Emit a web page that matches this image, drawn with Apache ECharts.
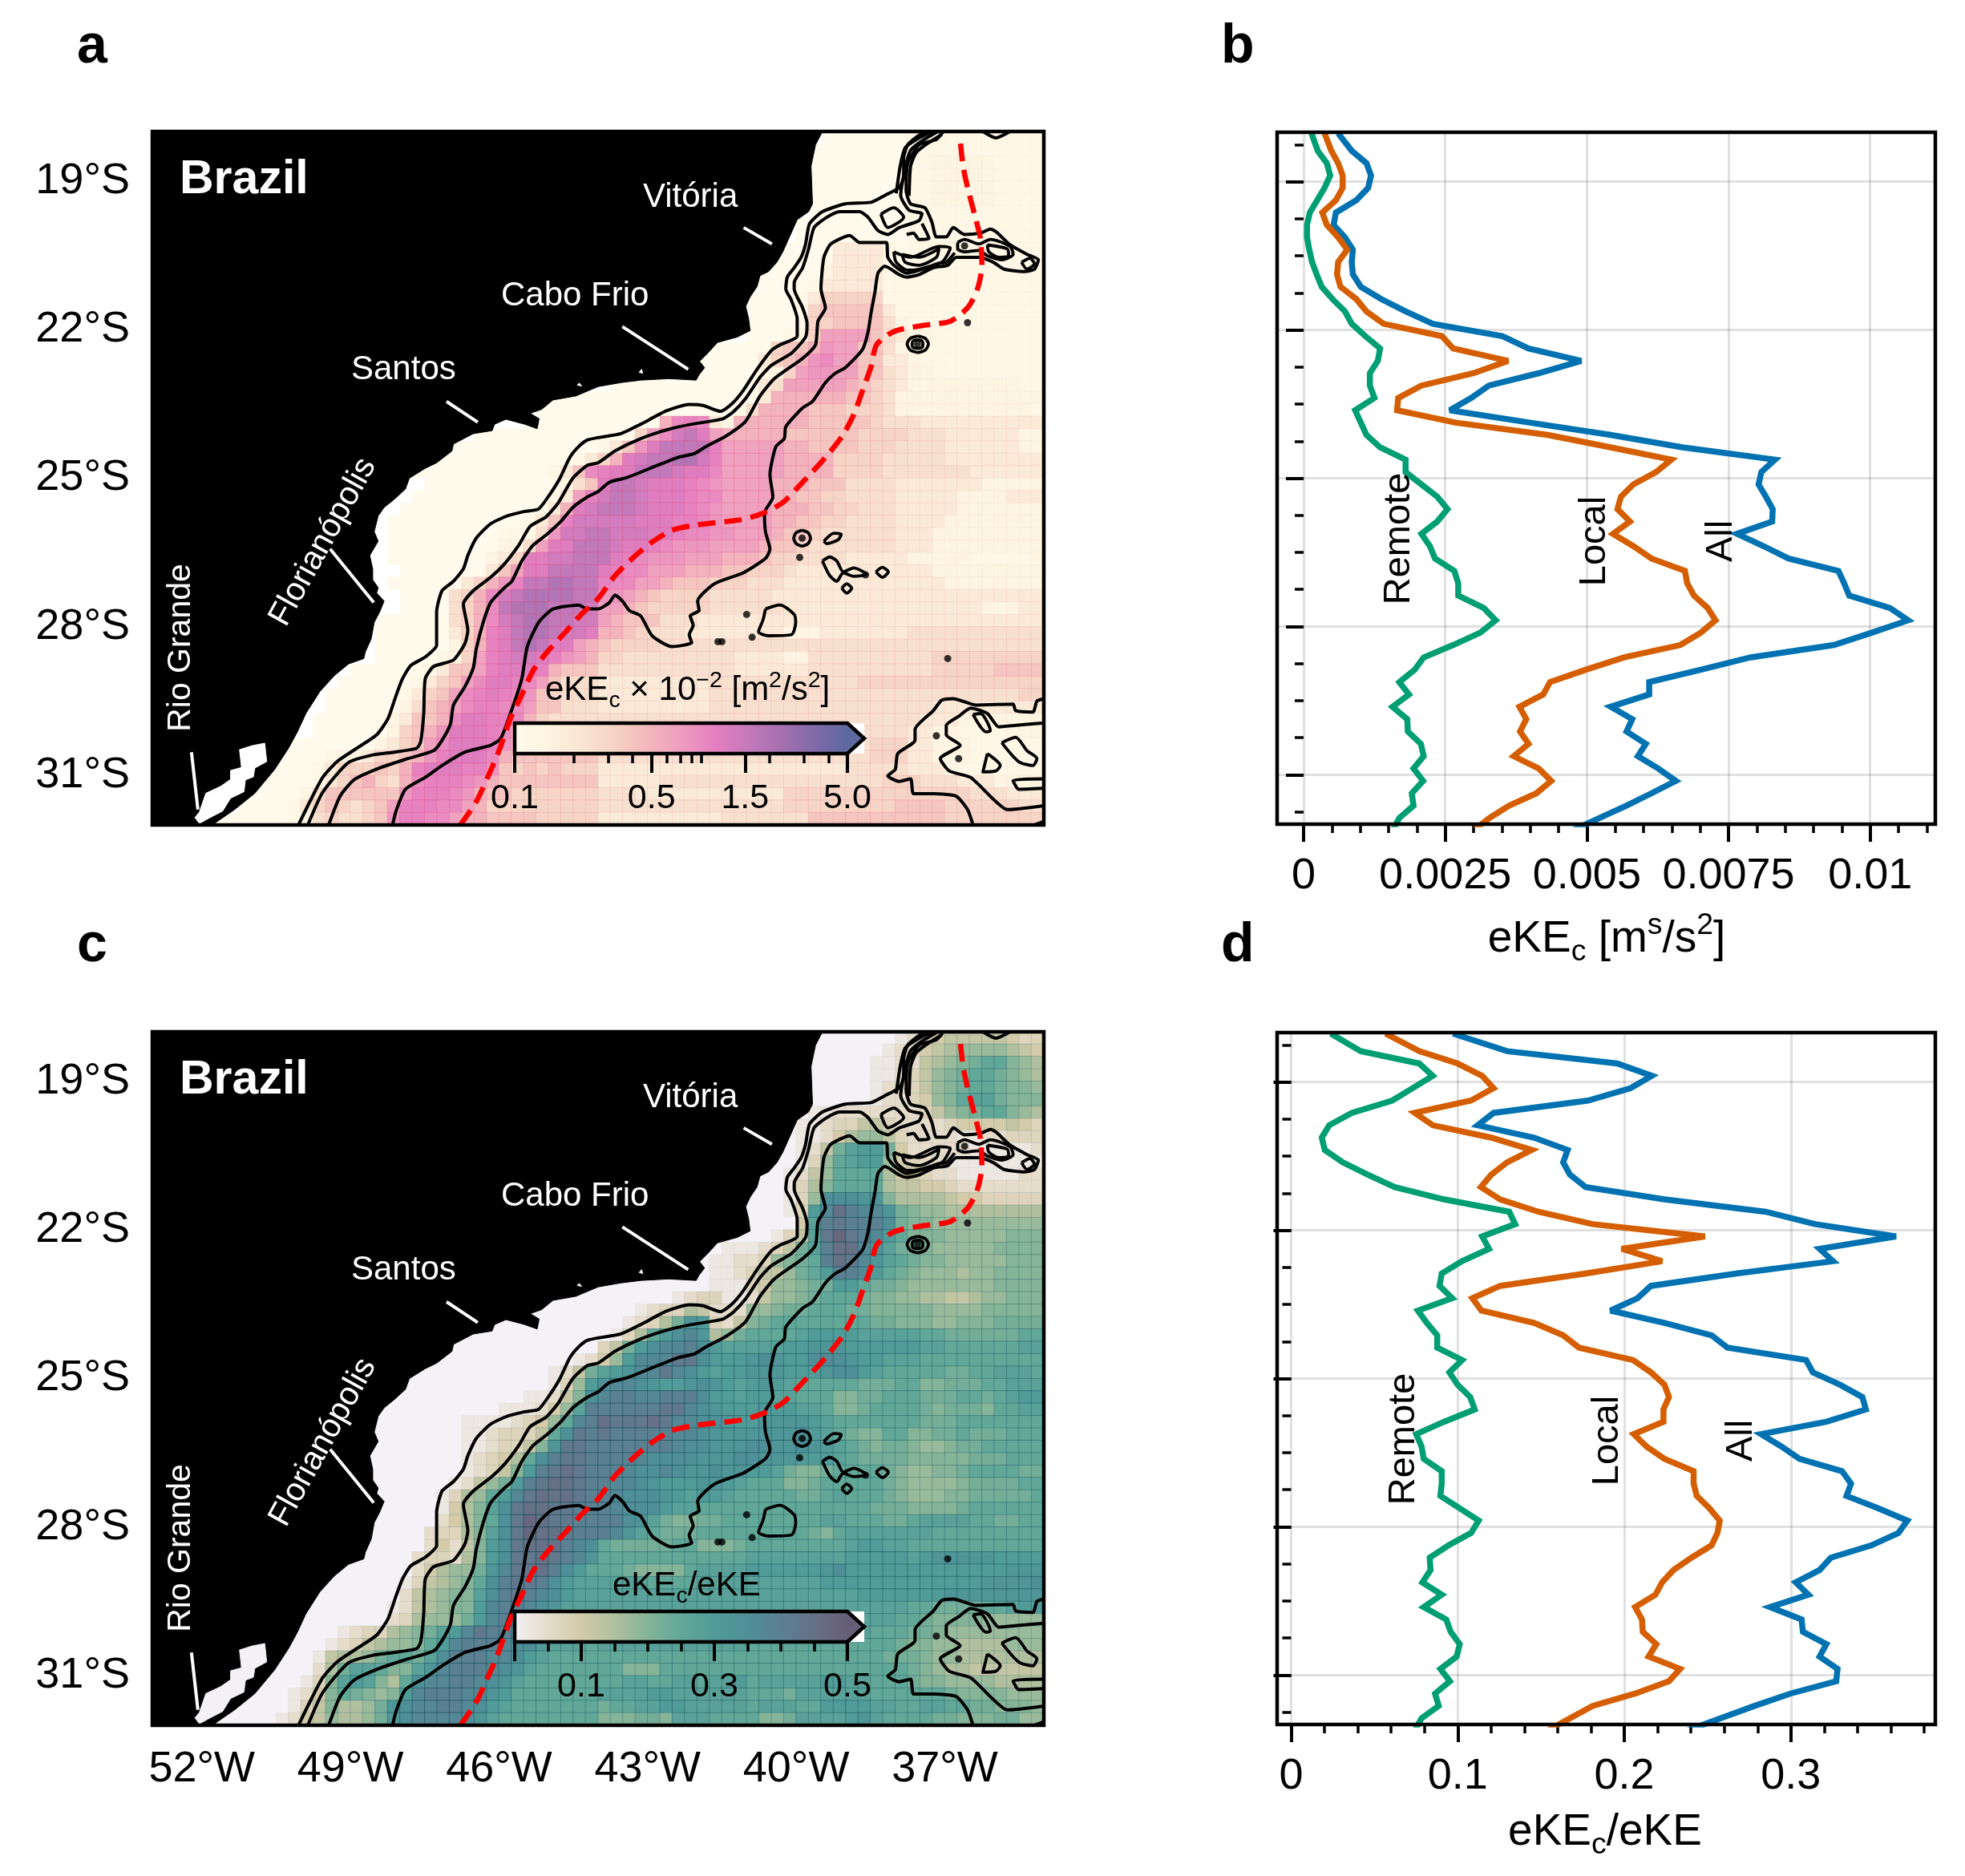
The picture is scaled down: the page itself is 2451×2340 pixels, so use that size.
<!DOCTYPE html>
<html><head><meta charset="utf-8">
<script src="https://cdn.jsdelivr.net/npm/echarts@6/dist/echarts.min.js"></script>
<style>html,body{margin:0;padding:0;background:#fff}#c{width:2451px;height:2340px}</style>
</head><body><div id="c"></div>
<script>
const FONT = "'Liberation Sans', Arial, Helvetica, sans-serif";

// ---------- panel a: eKEc (level per 0.25 degree cell, '.' = no data)
const ekeRows = [
"......000000 011111111111",
".....0000000 011111111111",
".....0000000 011222221111",
".....0000000 011222221111",
".....0000000 011222221111",
".....0000000 011222221111",
".....0000000 011111111111",
"....00000000 011111111111",
"....00000000 011111111111",
"...000033332 011111111111",
"..0000133331 011111111111",
".00000233331 111111111111",
".00001333331 111111111111",
"000013555551 111111111111",
"000015666663 111111111111",
"000015566664 211111111111",
"000125888864 322111111111",
".........000 005667988664 211111111111",
"........0000 035679a88663 321111111111",
"........0000 012589988664 322111111111",
".00000000000 134888887654 322222222211",
"........0000 000000000000 037777776654 222222222222",
".......00000 000000000001 477776665554 222222222221",
"......000000 000007aba327 777776666654 443333333333",
"..0000000000 00058adec877 777666666555 544433333322",
"000000000000 1369ceeeeb88 888776666555 444433333322",
"...........0 000000000013 57cdeeffdb88 888777755554 444433333333",
".........000 00000000136a bcceeedcca88 888777755554 444444333333",
"..........00 000000000146 ceedcccba988 887776664444 333333322222",
".........000 00000000138b deedcccbaa88 887766554444 333332222333",
"........0000 0000000137cd eeedcccba988 887776655444 333332222222",
".......00000 000000136bdd dddcccbba988 887766554444 333322222222",
".......00000 000011149dde edddccbaa998 887665444444 333222222222",
".......00000 00002248ccee edccba999888 876654444444 333222222222",
".......00000 000235ccddee ecba99988877 765544443333 322222111112",
"........0000 000368cceeee cbaa88877766 555433333333 333222222222",
".......00000 03579beeffee baa887666555 444333333333 333322222222",
"........0000 457adeffffee 998765555444 443333333333 333333333333",
"........0000 457aefffeeed 887655555444 444333333333 333333322233",
"......000000 457adeffeedd 876664443333 333333333333 333333333333",
"......000000 357bceffeddc 776544433333 333222333333 344444444444",
"......000000 257bcefecc87 655554444444 444444444444 444444444444",
"......000001 258bcddcb987 554444444443 333224444444 444555555555",
"....00000013 668bcccb7666 444444444443 333334444444 444555556666",
"...000000135 68accba86444 333333333444 444444444555 555555555555",
"..0000001356 8abcba965444 333333333444 444444444444 444444444455",
"..0000002467 8abbaa866444 333333333444 444444444444 444333333333",
".00000023667 accbba754444 444444444444 444444444444 443332222222",
".00000025679 cccba7754444 444444444444 444444444444 433221111222",
"...........0 00000023568a cccb97555555 444444444444 444444444455 533222111111",
"..........00 00122355679b ccca76666666 444444444444 444444444455 533222111111",
".........000 013555657bcc cbb965656555 333333333333 333333334444 433311111111",
".........000 013567547abb ba9766666666 333334444444 444444444445 554443332222",
"........0000 246666669bbb a97665555555 444333333333 333555555555 555555444333",
".......00001 35654568bbba a87555555555 444444444444 444555555555 666655555544",
".....0000001 24544569bbaa 877666655555 333333333344 444446666666 666655555555"
];
// position on the colour bar of each level used in ekeRows (0..g)
const ekeLevels = [0,0.05,0.1,0.17,0.23,0.29,0.35,0.42,0.48,0.52,0.56,0.59,0.62,0.66,0.71,0.76,0.8];

// ---------- panel c: eKEc/eKE (units of 0.025 per 0.25 degree cell)
const ratioRows = [
"......000000 123455555433",
".....0000001 224567777654",
".....0000011 2256789aa876",
".....0000011 235789aa9876",
".....0000012 235789aa9887",
".....0000012 23478abb9888",
".....1122222 2235789aa876",
"....11233553 222234444543",
"...011246775 322221122333",
"...01259bcc9 422222111112",
"..00137abcc7 432211111111",
".001257aaaa6 443221111122",
".001368aaaa6 554432222222",
"000137eeedd8 666654433333",
"00013cfigffd 987766666666",
"00004bghggge 988777777777",
"00135bhjhgfc a88877777888",
".........011 12359bgiifdb 988777778888",
"........0112 23789agihfdb a98877777888",
"........0112 35579acggfca 987776778888",
".00000000111 3477899cca99 877777778888",
"........0000 000000123311 257789aaa988 776655677888",
".......00000 000123365222 77899aaa9988 888777788888",
"......000000 0012369dc325 89aaaaaaaa99 888778889999",
"..0000000000 0136acefd679 aaaabccccbbb bbaa999999aa",
"000000000000 359ceffgecbb bbbccdddcccc ccbbaaaaaabb",
"...........0 000000000012 47cfffhheccc dedccefedccb bbaaaaaaaaaa",
".........000 000000001259 bcdffhfecbcc dddcccdeecba aaaa99aabbba",
"........0000 00000000137c effedccdedcb cdcbaaaaa999 aa88999aabbb",
".......00000 00000011258e fggffgggeccb ccbbaaa8899a aa999aa9abcc",
".......00000 0000111247bg ggggghhfedcc cdccbba889aa aa989998aabb",
".......00000 011112347afg ihhhihffeedc cddddcbaaaaa aa999aaaaaaa",
".......00000 01123335aehg hgggggffeddd ddddecba988a a8899a999aaa",
".......00000 01123358dhhg ggggggfeeddd eeddedcba989 9877899aaaaa",
".......00000 012346aeghhg gggfeeeeddde edddcccba999 988888999aaa",
".......00000 012358cghihg ggfeefeddedd ccb9889aaaa9 877889aaaa99",
".......00000 12579cghiihg gffedcccddcb aaa889aaaaa9 8777789999aa",
"........0001 367acfhiiihg gfeeedcbccba aaaa99abaaa9 87778899999a",
"........0001 468behiihhgg gfeeecbbaaaa aaaaaaaaaa99 988889aaaaaa",
"......000002 468aehjihhgg ggedb98899aa aaaaaabbaaa9 9abbbbaa99aa",
"......000023 368behjiihgg gfdba999aaaa aaaaa98abbbb bbbaaaaaaaaa",
"......000024 258cehiiigfe a99999aa8889 aaaaaaaabccb baaaaaaaaaaa",
"......000233 268cehhihgfd aaaaaaaaaaaa bbbbbbbbcccc cbcdddddcccc",
"....00000246 779dfhhigeca aa98888abbbb ccccccdecccc cccccccccddd",
"...000001356 78aeghhgecbb bbbbaaaabbbb bbbbbbcccccc cccccccdddde",
"..0000002567 88beghgfecbb bbbbbbbbbbbb bbbbbbbbbccc ccccdddddddd",
"..0000012567 88cfggfedbbb bbbbbbbbbbbb bbbbbbbbbbbb baa9999aabcc",
".00000023677 79cfggfedcbb bbbbbbbbbbbb bbbbbbbbbbbb aa9888877777",
".0012336789b cfhggfedcbbb bbbbbbbbbbbb bbbbbbbbbbaa a99877777777",
"...........0 0012356778ac fgggfeecbbba bbbbbbbbbbbb aaaaaaaaaaaa 988776666777",
"..........00 0156679aa9be gggffecbaaaa aaaaaaaaaaaa aaaaaaaaaaa9 998776666666",
".........000 0269bba88bdf gggfedbaaaaa aa888aaaaaaa aaaaaaaaaaaa a98766555555",
".........000 138bcb86aeff ggfedbaaaaaa aabbaabbabbc abbbbbccbbaa a98877776666",
"........0001 248a9878cfgg gffdcaaaaaaa bbbbccbbbbbb aaa9bbbbbbaa aaaa98888777",
".......00001 3586679deffg gfecbaaaaaaa 9aabbccbbbbb abbbaaccccbb aabbaa998887",
".....0000012 4576679defff fedbaaaaaaaa 888998bbbaaa a889bbbbcdba aaa998889977"
];

// ---------- colour scales
const ekeColors = ['#fffaeb','#fdf4e1','#f9e5d3','#f6d3c4','#f3b8bc','#ee9dc0','#e57fc0','#c47abb','#a570b0','#7f6aa8','#5b699e'];
const ratioColors = ['#f4f2f7','#e6dccb','#d3cbaa','#b0c09f','#85b498','#62a899','#519b98','#4f8f98','#5b8092','#667087','#665d76'];

// ---------- profiles panel b (eKEc)
const bAll = [.00061,.00085,.00111,.00119,.00114,.00093,.00057,.00053,.00073,.00087,.00085,.00087,.00101,.00137,.00180,.00228,.00351,.00397,.00490,.00415,.00327,.00296,.00258,.00399,.00542,.00669,.00832,.00808,.00803,.00816,.00828,.00827,.00765,.00812,.00856,.00944,.00954,.00963,.01035,.01067,.01003,.00936,.00789,.00701,.00610,.00610,.00542,.00580,.00570,.00604,.00590,.00626,.00657,.00614,.00570,.00522,.00475];
const bLocal = [.00037,.00049,.00061,.00069,.00069,.00057,.00033,.00041,.00061,.00077,.00061,.00059,.00065,.00093,.00111,.00141,.00244,.00264,.00361,.00300,.00208,.00167,.00165,.00268,.00431,.00542,.00649,.00622,.00582,.00560,.00554,.00576,.00546,.00582,.00614,.00673,.00677,.00689,.00713,.00727,.00701,.00665,.00566,.00498,.00435,.00423,.00381,.00393,.00382,.00397,.00371,.00415,.00437,.00411,.00363,.00328,.00300];
const bRemote = [.00014,.00025,.00041,.00047,.00037,.00024,.00011,.00006,.00006,.00010,.00015,.00023,.00032,.00051,.00073,.00085,.00109,.00135,.00131,.00117,.00117,.00125,.00091,.00101,.00111,.00135,.00180,.00180,.00208,.00236,.00254,.00236,.00208,.00223,.00232,.00266,.00273,.00273,.00318,.00339,.00312,.00264,.00212,.00196,.00169,.00186,.00157,.00183,.00184,.00207,.00212,.00194,.00211,.00191,.00194,.00169,.00157];
// ---------- profiles panel d (eKEc/eKE)
const dAll = [.0972,.1296,.1957,.2165,.2038,.1782,.1215,.1120,.1458,.1660,.1633,.1674,.1768,.2241,.2848,.3145,.3631,.3172,.3253,.2673,.2160,.2079,.1917,.2241,.2524,.2619,.3091,.3132,.3294,.3429,.3450,.3213,.2821,.2943,.3051,.3307,.3361,.3334,.3523,.3699,.3645,.3483,.3240,.3172,.3029,.3105,.2875,.3064,.3072,.3213,.3172,.3280,.3272,.2997,.2781,.2578,.2376];
const dLocal = [.0567,.0769,.0999,.1147,.1215,.1080,.0742,.0850,.1201,.1444,.1296,.1201,.1139,.1255,.1485,.1809,.2484,.1984,.2227,.1768,.1255,.1088,.1142,.1458,.1633,.1728,.2052,.2160,.2241,.2268,.2235,.2235,.2057,.2133,.2241,.2416,.2416,.2435,.2511,.2573,.2559,.2524,.2403,.2295,.2227,.2187,.2065,.2106,.2111,.2192,.2146,.2335,.2268,.2065,.1809,.1674,.1539];
const dRemote = [.0238,.0418,.0769,.0850,.0729,.0607,.0364,.0229,.0184,.0202,.0310,.0459,.0621,.0918,.1309,.1345,.1147,.1188,.1026,.0904,.0891,.0967,.0761,.0815,.0877,.0877,.1026,.0950,.0999,.1075,.1102,.0918,.0751,.0783,.0796,.0904,.0904,.0896,.1012,.1126,.1080,.0945,.0832,.0837,.0788,.0904,.0796,.0931,.0958,.1012,.0994,.0896,.0953,.0864,.0886,.0783,.0742];

// ---------- map geography, lon/lat
const coast = [[-39.47,-18],[-39.61,-18.27],[-39.70,-18.70],[-39.67,-19.46],[-39.75,-19.62],[-39.98,-19.78],[-40.10,-20.05],[-40.27,-20.43],[-40.39,-20.64],[-40.56,-20.83],[-40.73,-20.91],[-40.79,-21.13],[-40.93,-21.34],[-41.02,-21.53],[-40.96,-21.78],[-40.93,-22.02],[-41.19,-22.15],[-41.59,-22.26],[-41.79,-22.48],[-41.95,-22.64],[-41.85,-22.77],[-41.96,-22.91],[-42.02,-23.02],[-42.57,-22.99],[-43.14,-23.02],[-43.54,-23.07],[-44,-23.15],[-44.45,-23.34],[-44.91,-23.42],[-45.14,-23.61],[-45.37,-23.69],[-45.19,-23.80],[-45.23,-24.0],[-45.48,-23.91],[-45.86,-23.81],[-46.09,-23.91],[-46.14,-24.04],[-46.52,-24.10],[-46.92,-24.31],[-46.95,-24.45],[-47.26,-24.69],[-47.49,-24.80],[-47.81,-25],[-47.89,-25.22],[-48.12,-25.43],[-48.32,-25.59],[-48.44,-25.76],[-48.52,-26.08],[-48.44,-26.27],[-48.61,-26.56],[-48.55,-26.83],[-48.55,-27.05],[-48.44,-27.21],[-48.47,-27.32],[-48.32,-27.48],[-48.41,-27.70],[-48.52,-27.91],[-48.58,-28.24],[-48.70,-28.51],[-48.73,-28.64],[-49.04,-28.75],[-49.33,-28.99],[-49.62,-29.31],[-49.90,-29.75],[-50.07,-30.12],[-50.25,-30.45],[-50.53,-30.88],[-50.93,-31.36],[-51.34,-31.69],[-51.79,-32],[-53,-32],[-53,-18]];
const lagoon = [[-52.14,-31.85],[-52.05,-31.74],[-51.92,-31.36],[-51.62,-31.22],[-51.42,-31.08],[-51.42,-30.90],[-51.20,-30.84],[-51.24,-30.48],[-50.99,-30.40],[-50.73,-30.35],[-50.69,-30.72],[-50.93,-30.85],[-50.96,-31.03],[-51.12,-31.09],[-51.15,-31.33],[-51.42,-31.46],[-51.58,-31.72],[-51.85,-31.86],[-52.05,-31.97]];
const islet1 = [[-44.42,-23.12],[-44.38,-23.08],[-44.33,-23.14]];
const islet2 = [[-43.17,-22.86],[-43.12,-22.80],[-43.10,-22.88]];

const contourOpen = [
 [[-50.05,-32],[-49.79,-31.47],[-49.56,-31.04],[-49.27,-30.72],[-48.87,-30.45],[-48.47,-30.18],[-48.24,-29.85],[-48.09,-29.42],[-47.95,-29.05],[-47.78,-28.78],[-47.49,-28.61],[-47.26,-28.37],[-47.26,-27.70],[-47.15,-27.27],[-46.92,-27.08],[-46.72,-26.83],[-46.63,-26.56],[-46.46,-26.21],[-46.17,-25.92],[-45.83,-25.76],[-45.48,-25.67],[-45.20,-25.62],[-44.97,-25.32],[-44.77,-25],[-44.57,-24.58],[-44.39,-24.36],[-44.22,-24.23],[-44,-24.18],[-43.54,-24.10],[-43.14,-23.91],[-42.62,-23.64],[-42.16,-23.51],[-41.88,-23.53],[-41.53,-23.65],[-41.30,-23.50],[-41.07,-23.23],[-40.79,-22.80],[-40.50,-22.42],[-40.33,-22.31],[-39.98,-22.13],[-39.98,-21.78],[-40.10,-21.40],[-40.21,-21.18],[-40.18,-20.94],[-40.04,-20.75],[-39.90,-20.54],[-39.81,-20.27],[-39.73,-19.86],[-39.47,-19.62],[-39.01,-19.46],[-38.49,-19.43],[-38.21,-19.29],[-37.92,-19.13],[-37.83,-18.92],[-37.83,-18.54],[-37.75,-18.27],[-37.57,-18.11],[-37.40,-18.0]],
 [[-49.86,-32],[-49.56,-31.34],[-49.04,-30.74],[-48.52,-30.58],[-48.12,-30.53],[-47.66,-30.45],[-47.58,-30.31],[-47.52,-29.75],[-47.49,-29.05],[-47.32,-28.80],[-46.92,-28.67],[-46.69,-28.34],[-46.63,-28.07],[-46.72,-27.54],[-46.52,-27.27],[-46.17,-27.0],[-45.89,-26.73],[-45.60,-26.35],[-45.37,-25.97],[-45.05,-25.78],[-44.80,-25.49],[-44.51,-25],[-44.22,-24.74],[-44,-24.69],[-43.66,-24.45],[-43.14,-24.20],[-42.57,-24.01],[-42.11,-23.91],[-41.48,-23.80],[-41.27,-23.66],[-41.02,-23.39],[-40.73,-22.96],[-40.50,-22.72],[-40.10,-22.48],[-39.81,-22.15],[-39.78,-21.88],[-39.87,-21.56],[-40.04,-21.18],[-40.04,-21.05],[-39.87,-20.75],[-39.75,-20.37],[-39.64,-19.94],[-39.41,-19.75],[-39.12,-19.62],[-38.72,-19.62],[-38.55,-19.73],[-38.35,-20.0],[-38.15,-20.08],[-37.92,-19.94],[-37.52,-19.80],[-37.46,-19.66],[-37.72,-19.59],[-37.89,-19.29],[-37.79,-18.70],[-37.69,-18.38],[-37.46,-18.19],[-37.14,-18.0]],
 [[-49.44,-32],[-49.21,-31.42],[-48.93,-31.09],[-48.41,-30.85],[-47.84,-30.66],[-47.32,-30.50],[-47.15,-30.29],[-46.98,-29.96],[-46.92,-29.58],[-46.69,-29.21],[-46.52,-28.83],[-46.46,-28.45],[-46.32,-27.91],[-46.17,-27.51],[-45.89,-27.21],[-45.74,-27.08],[-45.54,-26.67],[-45.31,-26.35],[-45.03,-26.13],[-44.74,-25.86],[-44.51,-25.59],[-44.22,-25.38],[-44,-25.27],[-43.77,-25.08],[-43.43,-24.99],[-42.80,-24.74],[-42.39,-24.58],[-42.05,-24.50],[-41.82,-24.36],[-41.42,-24.15],[-41.02,-23.85],[-40.73,-23.34],[-40.44,-22.99],[-39.87,-22.58],[-39.61,-22.31],[-39.56,-21.83],[-39.41,-21.56],[-39.50,-21.18],[-39.44,-20.54],[-39.30,-20.27],[-38.92,-20.10],[-38.72,-20.24],[-38.18,-20.24],[-38.15,-20.54],[-38.03,-20.70],[-37.77,-20.86],[-37.52,-20.80],[-37.12,-20.66],[-36.97,-20.64],[-36.80,-20.45]],
 [[-48.15,-32],[-48.07,-31.69],[-47.89,-31.28],[-47.49,-31.04],[-47.15,-30.80],[-46.69,-30.53],[-46.17,-30.39],[-45.97,-30.26],[-45.77,-29.75],[-45.54,-29.05],[-45.43,-28.40],[-45.20,-27.91],[-44.91,-27.64],[-44.39,-27.56],[-44.22,-27.64],[-44,-27.64],[-43.77,-27.51],[-43.66,-27.36],[-43.51,-27.48],[-43.37,-27.67],[-43.14,-27.78],[-42.91,-28.18],[-42.51,-28.40],[-42.11,-28.32],[-42.16,-28.16],[-42.08,-27.97],[-42.14,-27.78],[-41.96,-27.67],[-41.99,-27.48],[-41.65,-27.13],[-41.07,-26.91],[-40.62,-26.62],[-40.53,-26.43],[-40.62,-26.08],[-40.64,-25.70],[-40.47,-25.38],[-40.53,-24.93],[-40.41,-24.36],[-40.24,-24.20],[-40.21,-23.96],[-39.87,-23.58],[-39.67,-23.45],[-39.41,-23.07],[-39.21,-22.88],[-39.01,-22.77],[-38.66,-22.40],[-38.55,-22.05],[-38.49,-21.67],[-38.41,-21.24],[-38.35,-20.86],[-38.21,-20.72],[-37.92,-20.89],[-37.77,-20.94],[-37.52,-20.89],[-37.23,-20.75],[-36.94,-20.70],[-36.77,-20.54],[-36.31,-20.54],[-36.02,-20.64],[-35.80,-20.78],[-35.39,-20.83],[-35.19,-20.78],[-35.11,-20.59],[-35.34,-20.48],[-35.68,-20.29],[-35.97,-20.02],[-36.08,-19.97],[-36.28,-20.05],[-36.60,-20.08],[-36.83,-19.94],[-36.97,-20.13],[-37.17,-20.13],[-37.26,-19.83],[-37.40,-19.54],[-37.69,-19.46],[-37.78,-19.19],[-37.75,-18.65],[-37.52,-18.27],[-37.17,-18.16],[-37.03,-18.0]],
 [[-36.43,-32],[-36.54,-31.69],[-36.77,-31.42],[-37.23,-31.37],[-37.63,-31.37],[-37.69,-31.07],[-37.92,-31.12],[-38.15,-31.01],[-38.0,-30.88],[-37.95,-30.56],[-37.60,-30.29],[-37.60,-30.07],[-37.23,-29.69],[-37.06,-29.48],[-36.83,-29.45],[-36.37,-29.58],[-35.62,-29.56],[-35.57,-29.69],[-35.22,-29.72],[-35.14,-29.50],[-35.0,-29.45]],
 [[-35,-31.61],[-35.74,-31.69],[-36.03,-31.47],[-36.48,-31.04],[-36.91,-30.91],[-37.09,-30.66],[-36.69,-30.39],[-36.97,-30.18],[-36.97,-29.99],[-36.71,-29.80],[-36.48,-29.64],[-36.14,-29.75],[-35.91,-30.02],[-35.57,-29.99],[-35,-29.94]],
 [[-35,-31.07],[-35.62,-31.10],[-35.51,-31.28],[-35,-31.26]],
 [[-35.19,-32],[-35,-31.93]],
 [[-36.23,-18.0],[-35.97,-18.13],[-35.68,-18.0]],
 [[-37.77,-20.08],[-37.63,-20.05],[-37.52,-20.18],[-37.32,-20.16],[-37.46,-19.86]],
 [[-37.98,-19.25],[-37.90,-18.7],[-37.80,-18.33],[-37.55,-18.15],[-37.25,-18.0]],
 [[-37.72,-19.3],[-37.69,-18.7],[-37.58,-18.43],[-37.36,-18.25],[-37.06,-18.06]]
];
const contourClosed = [
 [[-38.29,-19.67],[-38.03,-19.54],[-37.83,-19.73],[-38.15,-19.94]],
 [[-38.03,-20.43],[-37.69,-20.54],[-37.12,-20.32],[-36.89,-20.35],[-37.06,-20.64],[-37.52,-20.78],[-37.75,-20.80],[-37.98,-20.64]],
 [[-37.86,-20.48],[-37.52,-20.54],[-37.12,-20.37],[-37.17,-20.54],[-37.52,-20.70],[-37.80,-20.64]],
 [[-36.74,-20.24],[-36.60,-20.18],[-36.31,-20.27],[-36.08,-20.18],[-35.68,-20.32],[-35.62,-20.48],[-35.85,-20.59],[-36.14,-20.51],[-36.31,-20.40],[-36.60,-20.43],[-36.74,-20.37]],
 [[-36.14,-20.29],[-35.74,-20.37],[-35.71,-20.51],[-35.91,-20.54],[-36.11,-20.43]],
 [[-35.45,-20.64],[-35.28,-20.56],[-35.19,-20.67],[-35.34,-20.78]],
 [[-37.55,-22.13],[-37.39,-22.18],[-37.33,-22.29],[-37.39,-22.41],[-37.55,-22.46],[-37.70,-22.41],[-37.76,-22.29],[-37.70,-22.18]],
 [[-37.55,-22.2],[-37.46,-22.23],[-37.44,-22.29],[-37.46,-22.36],[-37.55,-22.38],[-37.64,-22.36],[-37.66,-22.29],[-37.64,-22.23]],
 [[-39.88,-26.05],[-39.76,-26.10],[-39.71,-26.21],[-39.76,-26.32],[-39.88,-26.37],[-40.0,-26.32],[-40.05,-26.21],[-40.0,-26.10]],
 [[-39.44,-26.27],[-39.24,-26.11],[-39.09,-26.13],[-39.15,-26.24],[-39.38,-26.32]],
 [[-39.47,-26.67],[-39.32,-26.59],[-39.18,-26.67],[-39.05,-26.89],[-38.84,-26.81],[-38.58,-26.94],[-38.84,-26.98],[-39.05,-26.91],[-39.18,-27.08],[-39.32,-26.97]],
 [[-38.39,-26.89],[-38.26,-26.80],[-38.14,-26.89],[-38.26,-27.0]],
 [[-39.08,-27.22],[-38.98,-27.13],[-38.88,-27.22],[-38.98,-27.32]],
 [[-40.62,-27.64],[-40.33,-27.56],[-40.04,-27.75],[-40.01,-27.91],[-40.10,-28.16],[-40.56,-28.18],[-40.76,-28.10],[-40.67,-27.86]],
 [[-36.43,-29.77],[-36.28,-29.75],[-36.08,-30.10],[-36.17,-30.12]],
 [[-35.85,-30.34],[-35.57,-30.23],[-35.34,-30.50],[-35.14,-30.66],[-35.22,-30.80],[-35.51,-30.72]],
 [[-36.14,-30.56],[-35.88,-30.80],[-35.97,-30.91],[-36.23,-30.93]]
];
const contourDots = [[-36.54,-21.86],[-37.55,-22.29],[-39.88,-26.21],[-39.93,-26.60],[-38.6,-26.95],[-41.0,-27.75],[-40.89,-28.21],[-41.58,-28.30],[-41.50,-28.30],[-36.94,-28.64],[-37.17,-30.20],[-36.72,-30.66],[-36.60,-20.31]];
const santosCurrent = [[-46.78,-32],[-46.46,-31.53],[-46.23,-31.04],[-46.0,-30.50],[-45.77,-29.85],[-45.54,-29.37],[-45.31,-28.88],[-45.03,-28.51],[-44.68,-28.13],[-44.34,-27.75],[-44,-27.43],[-43.66,-26.97],[-43.31,-26.62],[-42.91,-26.29],[-42.51,-26.05],[-41.99,-25.94],[-41.13,-25.84],[-40.73,-25.73],[-40.27,-25.49],[-39.87,-25.08],[-39.41,-24.58],[-39.07,-24.15],[-38.84,-23.72],[-38.66,-23.23],[-38.49,-22.75],[-38.38,-22.31],[-38.09,-22.07],[-37.86,-21.99],[-37.40,-21.91],[-36.89,-21.83],[-36.54,-21.56],[-36.34,-21.18],[-36.25,-20.70],[-36.28,-20.16],[-36.40,-19.67],[-36.54,-19.13],[-36.63,-18.70],[-36.69,-18.16]];
const leaders = [
 [[-52.21,-30.53],[-52.08,-31.69]],
 [[-49.41,-26.43],[-48.53,-27.51]],
 [[-47.06,-23.45],[-46.43,-23.87]],
 [[-43.51,-21.94],[-42.18,-22.80]],
 [[-41.06,-19.94],[-40.49,-20.27]]
];

// ---------- axes
const latTicks = [-19,-22,-25,-28,-31];
const lonTicks = [-52,-49,-46,-43,-40,-37];
const ekeTicks = [0,0.0025,0.005,0.0075,0.01];
const ratioTicks = [0,0.1,0.2,0.3];
const ekeMinor = Array.from({length:23},(_,i)=>+(i*0.0005).toFixed(4));
const ratioMinor = Array.from({length:20},(_,i)=>+(i*0.02).toFixed(2));
const latMinor = Array.from({length:19},(_,i)=>-18.25-0.75*i);
const cbEkeMajor = [0.1,0.5,1.5,5.0];
const cbEkeMinor = [0.2,0.3,0.4,0.6,0.7,0.8,0.9,2,3,4];
const cbRatioMajor = [0,0.1,0.3,0.5];
const cbRatioMinor = [0.05,0.15,0.2,0.25,0.35,0.4,0.45];
const cbRatioLabels = [0.1,0.3,0.5];

const profileLat = bAll.map((_,i)=>i===0?-18.02:-18.125-0.25*i);
const lonCells = Array.from({length:72},(_,i)=>i);
const latCells = Array.from({length:56},(_,i)=>i);

// ---------- layout
const G = {
  a:{left:190,top:164,width:1112,height:865},
  b:{left:1593,top:165,width:821,height:863},
  c:{left:190,top:1287,width:1112,height:865},
  d:{left:1593,top:1288,width:821,height:863},
  ca:{left:642,top:902,width:415,height:38},
  cc:{left:642,top:2010,width:415,height:38}
};
const grids = [G.a,G.b,G.c,G.d,G.ca,G.cc].map(g=>({...g,show:false,containLabel:false}));
const LBL = 54;
const hiddenAxis = (gridIndex,extra)=>Object.assign({gridIndex,show:false},extra);
const tickLen = 22;
function majorAxis(gridIndex,min,max,ticks,fmt,pos,showLabel){
  return {gridIndex,type:'value',min,max,position:pos,
    axisLine:{show:false},
    axisTick:{show:true,customValues:ticks,length:tickLen,lineStyle:{color:'#000',width:4}},
    axisLabel:{show:showLabel,customValues:ticks,formatter:fmt,color:'#000',fontSize:LBL,fontFamily:FONT,margin:38,hideOverlap:false,showMinLabel:true,showMaxLabel:true},
    splitLine:{show:true,lineStyle:{color:'rgba(0,0,0,0.12)',width:3}}};
}
function minorAxis(gridIndex,min,max,ticks,pos){
  return {gridIndex,type:'value',min,max,position:pos,
    axisLine:{show:false},
    axisTick:{show:true,customValues:ticks,length:11,lineStyle:{color:'#000',width:3.5}},
    axisLabel:{show:false},splitLine:{show:false}};
}
function mapAxis(gridIndex,min,max,ticks,fmt,pos,show,margin){
  return {gridIndex,type:'value',min,max,position:pos,
    axisLine:{show:false},axisTick:{show:false},splitLine:{show:false},
    axisLabel:{show,customValues:ticks,formatter:fmt,color:'#000',fontSize:LBL,fontFamily:FONT,margin,showMinLabel:true,showMaxLabel:true}};
}
const latFmt = v=>Math.abs(Math.round(v))+'°S';
const lonFmt = v=>Math.abs(Math.round(v))+'°W';
const ekeFmt = v=>String(+v.toFixed(4));
const ratioFmt = v=>String(+v.toFixed(1));
const log10 = Math.log10;

function cbAxis(gridIndex,min,max,ticks,len,w,show,fmt,labelTicks){
  const a = {gridIndex,type:'value',min,max,position:'bottom',z:10,
    axisLine:{show:false},splitLine:{show:false},
    axisTick:{show:true,customValues:ticks,length:len,lineStyle:{color:'#000',width:w}},
    axisLabel:{show:false}};
  if(show) a.axisLabel = {show:true,customValues:labelTicks,formatter:fmt,color:'#000',fontSize:43,fontFamily:FONT,margin:35,showMinLabel:true,showMaxLabel:true};
  return a;
}
const cbEkeMin = log10(0.1), cbEkeMax = log10(5);
const xAxes = [
  hiddenAxis(0,{type:'category',data:lonCells}),
  mapAxis(0,-53,-35,lonTicks,lonFmt,'bottom',false,28),
  majorAxis(1,-0.000467,0.01115,ekeTicks,ekeFmt,'bottom',true),
  minorAxis(1,-0.000467,0.01115,ekeMinor,'bottom'),
  hiddenAxis(2,{type:'category',data:lonCells}),
  mapAxis(2,-53,-35,lonTicks,lonFmt,'bottom',true,28),
  majorAxis(3,-0.0084,0.3867,ratioTicks,ratioFmt,'bottom',true),
  minorAxis(3,-0.0084,0.3867,ratioMinor,'bottom'),
  cbAxis(4,cbEkeMin,cbEkeMax,cbEkeMajor.map(log10),24,4,true,v=>(Math.pow(10,v)).toFixed(1),cbEkeMajor.map(log10)),
  cbAxis(4,cbEkeMin,cbEkeMax,cbEkeMinor.map(log10),12,3.5,false),
  cbAxis(5,0,0.5,cbRatioMajor,24,4,true,v=>v.toFixed(1),cbRatioLabels),
  cbAxis(5,0,0.5,cbRatioMinor,12,3.5,false)
];
const yAxes = [
  hiddenAxis(0,{type:'category',data:latCells,inverse:true}),
  mapAxis(0,-32,-18,latTicks,latFmt,'left',true,28),
  majorAxis(1,-32,-18,latTicks,latFmt,'left',false),
  minorAxis(1,-32,-18,latMinor,'left'),
  hiddenAxis(2,{type:'category',data:latCells,inverse:true}),
  mapAxis(2,-32,-18,latTicks,latFmt,'left',true,28),
  majorAxis(3,-32,-18,latTicks,latFmt,'left',false),
  minorAxis(3,-32,-18,latMinor,'left'),
  hiddenAxis(4,{type:'value',min:0,max:1}),
  hiddenAxis(4,{type:'value',min:0,max:1}),
  hiddenAxis(5,{type:'value',min:0,max:1}),
  hiddenAxis(5,{type:'value',min:0,max:1})
];

// ---------- series
function heatData(rows,valueOf,edge){
  const out=[];
  rows.forEach((raw,r)=>{
    const s=raw.replace(/ /g,'').padStart(72,'.');
    for(let c=0;c<72;c++){
      const v=valueOf(s[c]);
      if(v===null) continue;
      out.push({value:[c,r,v],itemStyle:{borderColor:edge(v),borderWidth:1}});
    }
  });
  return out;
}
const ekeData = heatData(ekeRows,
  ch=>ch==='.'?null:cbEkeMin+ekeLevels[parseInt(ch,36)]*(cbEkeMax-cbEkeMin),
  v=>{const f=(v-cbEkeMin)/(cbEkeMax-cbEkeMin);return `rgba(225,70,120,${(f*0.45).toFixed(3)})`;});
const ratioData = heatData(ratioRows,
  ch=>ch==='.'?0:parseInt(ch,36)*0.025,
  v=>`rgba(10,70,80,${(v*1.3).toFixed(3)})`);

function polygons(xi,yi,polys,fill,z){
  return {type:'custom',coordinateSystem:'cartesian2d',xAxisIndex:xi,yAxisIndex:yi,z,silent:true,clip:true,
    data:polys.map((_,i)=>[i]),encode:{x:-1,y:-1},
    renderItem:(p,api)=>({type:'polygon',shape:{points:polys[p.dataIndex].map(q=>api.coord(q))},style:{fill,stroke:fill,lineWidth:1}})};
}
function polyline(xi,yi,data,color,width,z,extra){
  return Object.assign({type:'line',xAxisIndex:xi,yAxisIndex:yi,data,symbol:'none',showSymbol:false,silent:true,z,clip:true,
    lineStyle:{color,width,cap:'butt',join:'round'}},extra||{});
}
function mapSeries(catX,valX,heat,lagoonFill){
  const list=[{type:'heatmap',xAxisIndex:catX,yAxisIndex:catX,data:heat,z:1,silent:true,progressive:0,emphasis:{disabled:true},label:{show:false}}];
  list.push(polygons(valX,valX,[coast],'#000',3));
  list.push(polygons(valX,valX,[lagoon,islet1,islet2],lagoonFill,4));
  contourOpen.forEach(c=>list.push(polyline(valX,valX,c,'#000',4,5,{smooth:0.2})));
  contourClosed.forEach(c=>list.push(polyline(valX,valX,c.concat([c[0]]),'#000',3.8,5,{smooth:0.25})));
  list.push({type:'scatter',xAxisIndex:valX,yAxisIndex:valX,data:contourDots,symbolSize:9,itemStyle:{color:'#000'},silent:true,z:5});
  list.push(polyline(valX,valX,santosCurrent,'#ff0000',6.5,6,{smooth:0.25,lineStyle:{color:'#ff0000',width:6.5,type:[22,11]}}));
  leaders.forEach(l=>list.push(polyline(valX,valX,l,'#fff',4,6)));
  return list;
}
function colourbar(xi,yi,min,max,colors){
  const tip=(max-min)*21/415;
  return {type:'custom',coordinateSystem:'cartesian2d',xAxisIndex:xi,yAxisIndex:yi,z:8,silent:true,clip:false,
    data:[[0]],encode:{x:-1,y:-1},
    renderItem:(p,api)=>{
      const pt=(x,y)=>api.coord([x,y]);
      const frac=(max-min)/(max-min+tip);
      return {type:'group',children:[
        {type:'polygon',shape:{points:[pt(max,1),pt(max+tip,1),pt(max+tip,0),pt(max,0)]},style:{fill:'#fff'}},
        {type:'polygon',shape:{points:[pt(min,1),pt(max,1),pt(max+tip,0.5),pt(max,0),pt(min,0)]},
         style:{lineWidth:4.5,stroke:'#000',lineJoin:'miter',
           fill:{type:'linear',x:0,y:0,x2:1,y2:0,colorStops:colors.map((c,i)=>({offset:i/(colors.length-1)*frac,color:c})).concat([{offset:1,color:colors[colors.length-1]}])}}}
      ]};
    }};
}
const profile=(xi,yi,vals,color)=>polyline(xi,yi,vals.map((v,i)=>[v,profileLat[i]]),color,7.5,4,{lineStyle:{color,width:7.5,join:'miter',miterLimit:3}});

const series=[];
series.push(...mapSeries(0,1,ekeData,'#ffffff'));
const idxC=series.length;
series.push(...mapSeries(4,5,ratioData,'#f3f1f6'));
series.push(profile(2,2,bAll,'#0072b2'),profile(2,2,bLocal,'#d55e00'),profile(2,2,bRemote,'#009e73'));
series.push(profile(6,6,dAll,'#0072b2'),profile(6,6,dLocal,'#d55e00'),profile(6,6,dRemote,'#009e73'));
series.push(colourbar(8,8,cbEkeMin,cbEkeMax,ekeColors));
series.push(colourbar(10,10,0,0.5,ratioColors));

// ---------- text
const measure=document.createElement('canvas').getContext('2d');
function txt(text,x,y,size,opt){
  opt=opt||{};
  return {type:'text',z:60,silent:true,x,y,rotation:opt.rot||0,
    style:{text,fill:opt.fill||'#000',font:`${opt.bold?'bold ':''}${size}px ${FONT}`,
      align:opt.align||'left',verticalAlign:'middle'}};
}
// text placed on a baseline
const base=(text,x,b,size,opt)=>txt(text,x,b-0.30*size,size,opt);
function mathText(x,b,segs,size,centered){
  const w=s=>{const sz=s[1]==='n'?size:size*0.68;measure.font=`${sz}px ${FONT}`;return measure.measureText(s[0]).width;};
  let total=segs.reduce((t,s)=>t+w(s),0);
  let cx=centered?x-total/2:x;
  return segs.map(s=>{
    const sz=s[1]==='n'?size:size*0.68;
    const bl=s[1]==='sub'?b+size*0.2:s[1]==='sup'?b-size*0.4:b;
    const el=base(s[0],cx,bl,sz);
    cx+=w(s);
    return el;
  });
}
function mapLabels(dy){
  const W={fill:'#fff'};
  return [
    base('Brazil',224,242+dy,59,{fill:'#fff',bold:true}),
    base('Vitória',802,259+dy,42,W),
    base('Cabo Frio',625,382+dy,42,W),
    base('Santos',438,474+dy,42,W),
    txt('Florianópolis',403,676+dy,41,{fill:'#fff',rot:61*Math.PI/180,align:'center'}),
    txt('Rio Grande',226,808+dy,41,{fill:'#fff',rot:Math.PI/2,align:'center'})
  ];
}
const frame=g=>({type:'rect',z:55,silent:true,shape:{x:g.left,y:g.top,width:g.width,height:g.height},style:{fill:'transparent',stroke:'#000',lineWidth:4.5}});
const graphics=[
  frame(G.a),frame(G.b),frame(G.c),frame(G.d),
  txt('a',96,59,68,{bold:true}),txt('b',1523,59,68,{bold:true}),
  txt('c',96,1180,68,{bold:true}),txt('d',1523,1180,68,{bold:true}),
  ...mapLabels(0),...mapLabels(1123),
  txt('Remote',1745,672,47,{rot:Math.PI/2,align:'center'}),
  txt('Local',1989,675,47,{rot:Math.PI/2,align:'center'}),
  txt('All',2147,675,47,{rot:Math.PI/2,align:'center'}),
  txt('Remote',1751,1795,47,{rot:Math.PI/2,align:'center'}),
  txt('Local',2005,1797,47,{rot:Math.PI/2,align:'center'}),
  txt('All',2172,1797,47,{rot:Math.PI/2,align:'center'}),
  ...mathText(680,874,[['eKE','n'],['c','sub'],[' × 10','n'],['−2','sup'],[' [m','n'],['2','sup'],['/s','n'],['2','sup'],[']','n']],42),
  ...mathText(764,1991,[['eKE','n'],['c','sub'],['/eKE','n']],42),
  ...mathText(2004,1188,[['eKE','n'],['c','sub'],[' [m','n'],['s','sup'],['/s','n'],['2','sup'],[']','n']],55,true),
  ...mathText(2002,2302,[['eKE','n'],['c','sub'],['/eKE','n']],55,true)
];

const chart=echarts.init(document.getElementById('c'),null,{renderer:'canvas',width:2451,height:2340});
chart.setOption({
  animation:false,backgroundColor:'#fff',
  grid:grids,xAxis:xAxes,yAxis:yAxes,series,
  visualMap:[
    {show:false,type:'continuous',seriesIndex:0,dimension:2,min:cbEkeMin,max:cbEkeMax,inRange:{color:ekeColors}},
    {show:false,type:'continuous',seriesIndex:idxC,dimension:2,min:0,max:0.5,inRange:{color:ratioColors}}
  ],
  graphic:{elements:graphics}
});
</script></body></html>
